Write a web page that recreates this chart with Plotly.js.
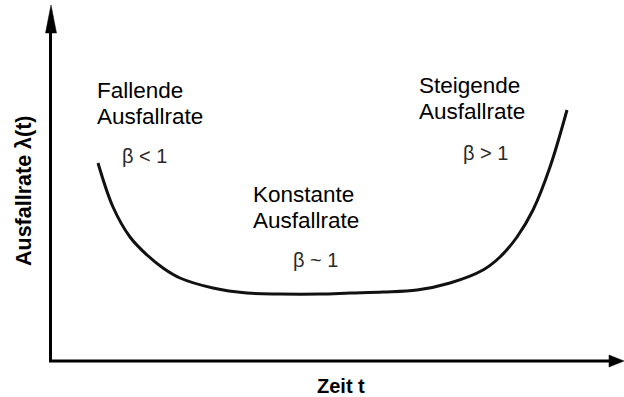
<!DOCTYPE html>
<html>
<head>
<meta charset="utf-8">
<script src="https://cdn.plot.ly/plotly-3.0.1.min.js"></script>
<style>
  html, body { margin: 0; padding: 0; background: #fff; }
  #chart { width: 624px; height: 397px; }
</style>
</head>
<body>
<div id="chart"></div>
<script>
// Bathtub curve (arbitrary units)
const zeit = [48, 63, 80, 97, 113, 130, 163, 197, 230, 270, 300, 333, 367, 400, 433, 450, 467, 483, 500, 517];
const ausfallrate = [198, 154, 124, 106, 93, 83, 73, 68, 67, 67, 68, 69, 71, 78, 91, 104, 124, 151, 194, 251];

const labelLeft = ["Fallende", "Ausfallrate"];
const labelMid = ["Konstante", "Ausfallrate"];
const labelRight = ["Steigende", "Ausfallrate"];
const betaLabels = ["β < 1", "β ~ 1", "β > 1"];
const xTitle = "Zeit t";
const yTitle = "Ausfallrate λ(t)";

const W = 624, H = 397;
const M = {l: 50, r: 0, t: 5, b: 36};
const PW = W - M.l - M.r, PH = H - M.t - M.b;
// helpers: pixel position -> axis/paper position (layout only)
const ax = px => px - M.l;
const ay = py => (H - M.b) - py;
const px2p = px => (px - M.l) / PW;
const py2p = py => ((H - M.b) - py) / PH;

const font = 'Arial, "Liberation Sans", Helvetica, sans-serif';

function textAnn(txt, px, py, size, color, opts) {
  return Object.assign({
    text: txt, x: ax(px), y: ay(py), xref: 'x', yref: 'y',
    xanchor: 'left', yanchor: 'middle', showarrow: false,
    font: {family: font, size: size, color: color}
  }, opts || {});
}

const annotations = [
  textAnn(labelLeft[0], 95, 90, 22.5, '#000'),
  textAnn(labelLeft[1], 95, 116, 22.5, '#000'),
  textAnn(betaLabels[0], 120, 156, 20, '#2a2a2a'),
  textAnn(labelMid[0], 251, 194, 22.5, '#000'),
  textAnn(labelMid[1], 251, 220, 22.5, '#000'),
  textAnn(betaLabels[1], 291, 260, 20, '#2a2a2a'),
  textAnn(labelRight[0], 417, 85, 22.5, '#000'),
  textAnn(labelRight[1], 417, 111, 22.5, '#000'),
  textAnn(betaLabels[2], 461, 153, 20, '#2a2a2a'),
  {
    text: '<b>' + xTitle + '</b>', x: px2p(341), y: py2p(386), xref: 'paper', yref: 'paper',
    xanchor: 'center', yanchor: 'middle', showarrow: false, borderpad: 0,
    font: {family: font, size: 20, color: '#000'}
  },
  {
    text: '<b>' + yTitle + '</b>', x: px2p(24), y: py2p(191), xref: 'paper', yref: 'paper',
    xanchor: 'center', yanchor: 'middle', showarrow: false, textangle: -90,
    font: {family: font, size: 21.5, color: '#000'}
  }
];

function tri(p) {
  return 'M' + p.map(q => px2p(q[0]) + ',' + py2p(q[1])).join(' L') + ' Z';
}

const shapes = [
  // axis lines
  {type: 'line', xref: 'paper', yref: 'paper', x0: px2p(50.5), y0: py2p(362), x1: px2p(50.5), y1: py2p(20),
   line: {color: '#000', width: 3}},
  {type: 'line', xref: 'paper', yref: 'paper', x0: px2p(49), y0: py2p(361), x1: px2p(612), y1: py2p(361),
   line: {color: '#000', width: 3}},
  // arrow heads
  {type: 'path', xref: 'paper', yref: 'paper', path: tri([[51, 5], [56.5, 33], [45.5, 33]]),
   fillcolor: '#000', line: {color: '#000', width: 0.5}},
  {type: 'path', xref: 'paper', yref: 'paper', path: tri([[624, 361], [609, 355], [609, 367]]),
   fillcolor: '#000', line: {color: '#000', width: 0.5}}
];

const trace = {
  x: zeit, y: ausfallrate, type: 'scatter', mode: 'lines',
  line: {color: '#111', width: 3, shape: 'spline', smoothing: 1},
  hoverinfo: 'skip'
};

const axisBase = {showgrid: false, zeroline: false, showticklabels: false, ticks: '', showline: false, fixedrange: true};

const layout = {
  width: W, height: H,
  margin: M,
  paper_bgcolor: '#fff', plot_bgcolor: '#fff',
  showlegend: false,
  xaxis: Object.assign({}, axisBase, {range: [0, PW]}),
  yaxis: Object.assign({}, axisBase, {range: [0, PH]}),
  annotations: annotations,
  shapes: shapes
};

Plotly.newPlot('chart', [trace], layout, {displayModeBar: false, staticPlot: true});
</script>
</body>
</html>
